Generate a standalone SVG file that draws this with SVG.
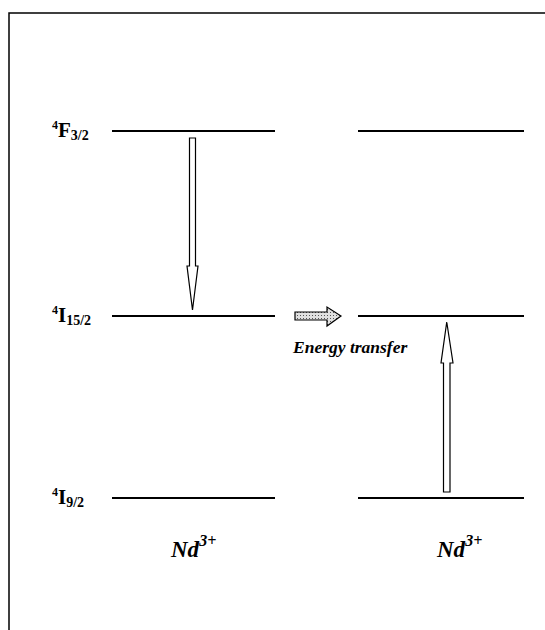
<svg xmlns="http://www.w3.org/2000/svg" width="545" height="630" viewBox="0 0 545 630">
<defs>
<pattern id="dots" width="3" height="3" patternUnits="userSpaceOnUse">
<rect width="3" height="3" fill="#e0e0e0"/>
<rect width="1" height="1" fill="#555"/>
</pattern>
<style>
.lvl{stroke:#000;stroke-width:2}
.lab{font-family:"Liberation Serif",serif;font-weight:bold;font-size:21px;fill:#000}
.sub{font-size:14px}
.sup{font-size:12px}
.ital{font-family:"Liberation Serif",serif;font-weight:bold;font-style:italic;fill:#000}
.arr{fill:#fff;stroke:#000;stroke-width:1.2}
</style>
</defs>
<rect width="545" height="630" fill="#fff"/>
<path d="M9,630 V13 H545" fill="none" stroke="#000" stroke-width="1.5"/>
<g id="labels">
<text class="lab" x="52" y="137"><tspan class="sup" dy="-8">4</tspan><tspan dy="8">F</tspan><tspan class="sub" dy="3">3/2</tspan></text>
<text class="lab" x="52" y="322"><tspan class="sup" dy="-8">4</tspan><tspan dy="8">I</tspan><tspan class="sub" dy="3">15/2</tspan></text>
<text class="lab" x="52" y="504"><tspan class="sup" dy="-8">4</tspan><tspan dy="8">I</tspan><tspan class="sub" dy="3">9/2</tspan></text>
</g>
<g id="left-levels">
<line class="lvl" x1="112" y1="131" x2="275" y2="131"/>
<line class="lvl" x1="112" y1="316" x2="275" y2="316"/>
<line class="lvl" x1="112" y1="498" x2="275" y2="498"/>
</g>
<g id="right-levels">
<line class="lvl" x1="358" y1="131" x2="524" y2="131"/>
<line class="lvl" x1="358" y1="316" x2="524" y2="316"/>
<line class="lvl" x1="358" y1="498" x2="524" y2="498"/>
</g>
<g id="connectors">
<path class="arr" d="M189.5,138 H195.5 V266 H198 L192.5,310 L187,266 H189.5 Z"/>
<path class="arr" d="M443.5,492 H450 V363 H453 L446.75,322 L441,363 H443.5 Z"/>
<path d="M295,312 H327 V307 L341,316 L327,326 V320 H295 Z" fill="url(#dots)" stroke="#000" stroke-width="1.2"/>
</g>
<g id="texts">
<text class="ital" x="293" y="353" font-size="17.5">Energy transfer</text>
<text class="ital" x="171" y="557" font-size="23">Nd<tspan font-size="16" dy="-11">3+</tspan></text>
<text class="ital" x="437" y="557" font-size="23">Nd<tspan font-size="16" dy="-11">3+</tspan></text>
</g>
</svg>
